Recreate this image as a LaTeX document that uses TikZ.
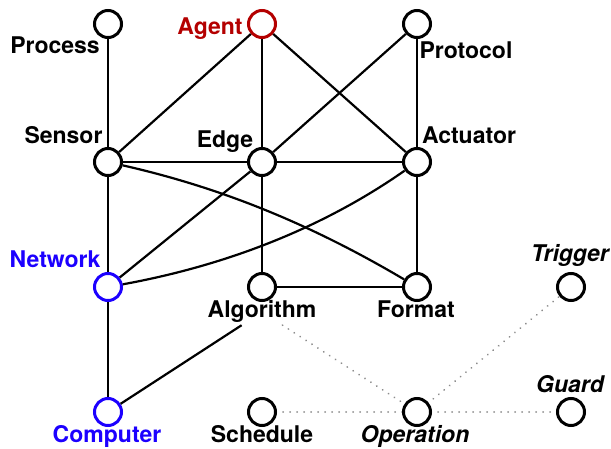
\documentclass[tikz,border=0pt]{standalone}
\usepackage{fontspec}
\setmainfont{TeX Gyre Heros}
\definecolor{agentred}{RGB}{180,0,0}
\definecolor{netblue}{RGB}{28,0,255}
\definecolor{dotgray}{RGB}{140,140,140}
\begin{document}
\begin{tikzpicture}[x=1pt,y=-1pt,
  vtx/.style={circle,draw,line width=3pt,minimum size=27pt,inner sep=0pt,fill=white},
  lbl/.style={font=\fontsize{23}{26}\selectfont\bfseries,inner sep=2pt,anchor=base},
  ilbl/.style={lbl,font=\fontsize{23}{26}\selectfont\bfseries\itshape},
  link/.style={line width=2.2pt},
  dlink/.style={line width=2pt,dotgray,dash pattern=on 0.01pt off 7pt,line cap=round}]
\useasboundingbox (0,0) rectangle (611,449);
% labels
\node[lbl] (l-process) at (55,54) {Process};
\node[lbl,agentred] (l-agent) at (210,35) {Agent};
\node[lbl] (l-protocol) at (466,59) {Protocol};
\node[lbl] (l-sensor) at (63.5,144) {Sensor};
\node[lbl] (l-edge) at (225,148) {Edge};
\node[lbl] (l-actuator) at (469,144) {Actuator};
\node[lbl,netblue] (l-network) at (55,268) {Network};
\node[lbl] (l-alg) at (262,318) {Algorithm};
\node[lbl] (l-format) at (416,318) {Format};
\node[ilbl] (l-trigger) at (570,262) {Trigger};
\node[lbl,netblue] (l-computer) at (107,442) {Computer};
\node[lbl] (l-schedule) at (262,442) {Schedule};
\node[ilbl] (l-operation) at (415,442) {Operation};
\node[ilbl] (l-guard) at (570,392) {Guard};
% dotted links
\coordinate (c-op) at (417,412);
\draw[dlink] (l-alg) -- (c-op);
\draw[dlink] (262,412) -- (c-op);
\draw[dlink] (c-op) -- (571,287);
\draw[dlink] (c-op) -- (571,412);
% vertices
\node[vtx] (process) at (108,24) {};
\node[vtx,draw=agentred] (agent) at (262,24) {};
\node[vtx] (protocol) at (417,24) {};
\node[vtx] (sensor) at (108,162) {};
\node[vtx] (edge) at (262,162) {};
\node[vtx] (actuator) at (417,162) {};
\node[vtx,draw=netblue] (network) at (108,287) {};
\node[vtx] (alg) at (262,287) {};
\node[vtx] (format) at (417,287) {};
\node[vtx] (trigger) at (571,287) {};
\node[vtx,draw=netblue] (computer) at (108,412) {};
\node[vtx] (schedule) at (262,412) {};
\node[vtx] (operation) at (417,412) {};
\node[vtx] (guard) at (571,412) {};
% solid links
\draw[link] (process) -- (sensor);
\draw[link] (agent) -- (sensor);
\draw[link] (agent) -- (edge);
\draw[link] (agent) -- (actuator);
\draw[link] (protocol) -- (edge);
\draw[link] (protocol) -- (actuator);
\draw[link] (sensor) -- (edge);
\draw[link] (edge) -- (actuator);
\draw[link] (sensor) -- (network);
\draw[link] (edge) -- (network);
\draw[link] (edge) -- (alg);
\draw[link] (actuator) -- (format);
\draw[link] (alg) -- (format);
\draw[link] (network) -- (computer);
\draw[link] (computer) -- (l-alg);
\draw[link] (sensor) .. controls +(110,25) and +(-110,-65) .. (format);
\draw[link] (network) .. controls +(110,-20) and +(-100,70) .. (actuator);
\end{tikzpicture}
\end{document}
